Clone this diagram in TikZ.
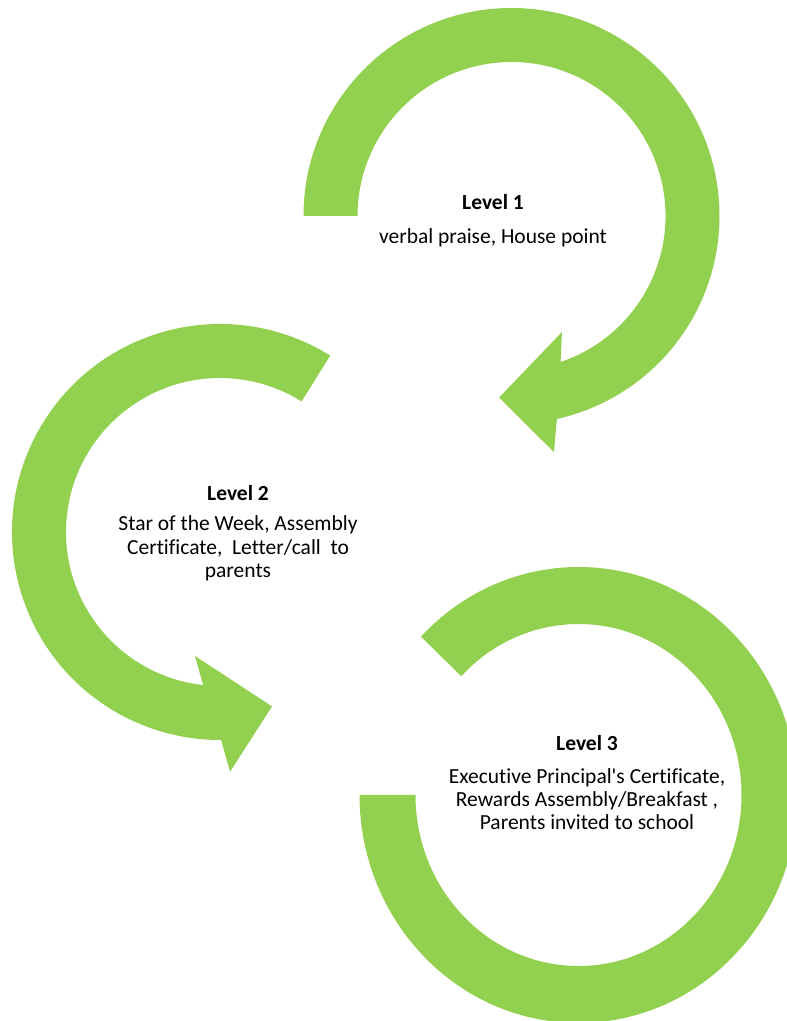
\documentclass[tikz,border=0pt]{standalone}
\usepackage{fontspec}
\setmainfont{Carlito}[Ligatures={NoCommon}]
\begin{document}
\begin{tikzpicture}[x=1pt,y=1pt,
  arrowfill/.style={fill=arrowgreen, draw=none},
  lvltext/.style={align=center, inner sep=0pt, anchor=base,
    font=\fontsize{21.5}{23.4}\selectfont}]
\definecolor{arrowgreen}{HTML}{92D050}
\useasboundingbox (0,0) rectangle (787,1021);
\clip (0,0) rectangle (787,1021);
% centres of the three circular arrows
\coordinate (c1) at (511.5,805);
\coordinate (c2) at (220,489);
\coordinate (c3) at (578.5,226);
% arrow 1 (clockwise, head at bottom left)
\begin{scope}[shift={(c1)}]
\fill[arrowfill] (180:208) arc[start angle=180, end angle=-77.4, radius=208]
  -- (-79.8:240) -- (-93.9:182) -- (-66.5:126.5) -- (-71.4:154)
  arc[start angle=-71.4, end angle=180, radius=154] -- cycle;
\end{scope}
% arrow 2 (counter-clockwise, head at bottom right)
\begin{scope}[shift={(c2)}]
\fill[arrowfill] (58:208) arc[start angle=58, end angle=270.3, radius=208]
  -- (272.4:240) -- (286.6:182) -- (258.6:126.5) -- (263.7:154)
  arc[start angle=263.7, end angle=58, radius=154] -- cycle;
\end{scope}
% arrow 3 (ring arc)
\begin{scope}[shift={(c3)}]
\fill[arrowfill] (136:219 and 228)
  arc[start angle=136, end angle=-180, x radius=219, y radius=228]
  -- (180:163 and 171)
  arc[start angle=-180, end angle=136, x radius=163, y radius=171] -- cycle;
\end{scope}
% texts (anchor base = baseline of the last line)
\node[lvltext] (t1) at (493,777.7) {\textbf{Level 1}\\[10.6pt] verbal praise, House point};
\node[lvltext] (t2) at (238,443.3) {\textbf{Level 2}\\[7.3pt] Star of the Week, Assembly\\ Certificate,\ \ Letter/call\ \ to\\ parents};
\node[lvltext] (t3) at (587,191) {\textbf{Level 3}\\[9.2pt] Executive Principal\textquotesingle s Certificate,\\ Rewards Assembly/Breakfast ,\\ Parents invited to school};
\end{tikzpicture}
\end{document}
